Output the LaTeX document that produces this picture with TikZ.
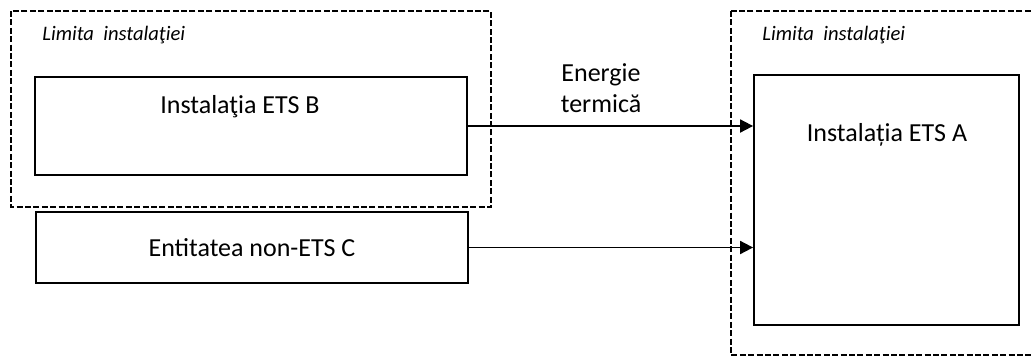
\documentclass[tikz,border=0pt]{standalone}
\usepackage{fontspec}
\setmainfont{Carlito}
\usetikzlibrary{positioning,arrows.meta}
\tikzset{
  ebox/.style    = {draw=black, line width=0.9pt, inner sep=0pt,
                    font=\fontsize{13}{15.5}\selectfont},
  % label sits near the top edge of its box
  etext/.style   = {font=\fontsize{13}{15.5}\selectfont, inner sep=0pt},
  limit/.style   = {draw=black, line width=0.7pt, dash pattern=on 3pt off 1.2pt},
  limtext/.style = {font=\fontsize{10.3}{12}\selectfont\itshape, anchor=west, inner sep=0pt},
  flow/.style    = {draw=black, line width=0.9pt,
                    -{Triangle[length=6.5pt,width=6.5pt]}},
}

\begin{document}
\begin{tikzpicture}[x=0.5pt, y=-0.5pt]
    \clip (0,0) rectangle (1033,360);
    \fill[white] (0,0) rectangle (1033,360);

    % installation limits
    \draw[limit] (11,11) rectangle (491,207);
    \draw[limit] (731,11) rectangle (1045,355);
    \node[limtext] (limb) at (42,35)  {Limita~~instalaţiei};
    \node[limtext] (lima) at (762,35) {Limita~~instalaţiei};

    \node[ebox, minimum width=216pt, minimum height=49pt] (b) at (251,126) {};
    \node[etext] (bt) at (240,107) {Instalaţia ETS B};

    \node[ebox, minimum width=216pt, minimum height=35.5pt] (c) at (252,247.5) {Entitatea non-ETS C};

    \node[ebox, minimum width=132.5pt, minimum height=125pt] (a) at (886.5,200) {};
    \node[etext] (at) at (887,135) {Instalația ETS A};

    \node[etext, align=center] (flux) at (601,88) {Energie\\termică};

    \draw[flow] (b.east) -- (b.east -| a.west);
    \draw[flow] (c.east) -- (c.east -| a.west);
\end{tikzpicture}
\end{document}
